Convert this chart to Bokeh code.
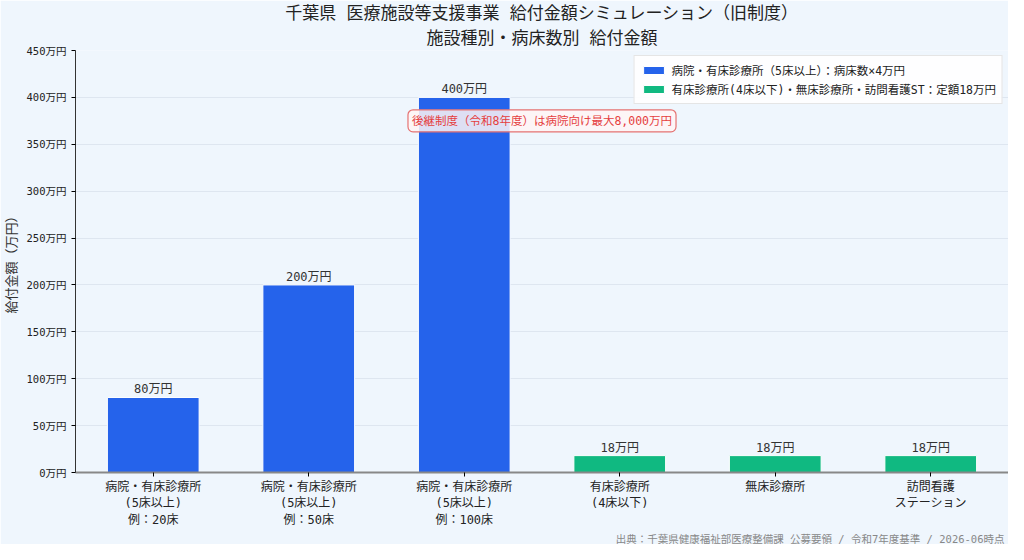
from bokeh.plotting import figure
from bokeh.models import ColumnDataSource, FixedTicker, Label, Title, Legend, LegendItem
from bokeh.embed import file_html
from bokeh.resources import INLINE

# データ（万円）
categories = [
    "病院・有床診療所\n(5床以上)\n例：20床",
    "病院・有床診療所\n(5床以上)\n例：50床",
    "病院・有床診療所\n(5床以上)\n例：100床",
    "有床診療所\n(4床以下)",
    "無床診療所",
    "訪問看護\nステーション",
]
amounts = [80, 200, 400, 18, 18, 18]
groups = ["bed", "bed", "bed", "flat", "flat", "flat"]
legend_labels = {
    "bed": "病院・有床診療所（5床以上）：病床数×4万円",
    "flat": "有床診療所(4床以下)・無床診療所・訪問看護ST：定額18万円",
}
group_colors = {"bed": "#2563EB", "flat": "#10B981"}
y_ticks = [0, 50, 100, 150, 200, 250, 300, 350, 400, 450]

FONT = "DejaVu Sans Mono, Noto Sans CJK JP"
BG = "#EFF6FD"

p = figure(x_range=categories, y_range=(0, 450), width=1008, height=544,
           output_backend="svg", toolbar_location=None,
           title="千葉県 医療施設等支援事業 給付金額シミュレーション（旧制度）",
           min_border_left=10, min_border_right=0, min_border_top=0,
           min_border_bottom=0)
p.title.align = "center"
p.title.text_font = FONT
p.title.text_font_size = "17px"
p.title.text_font_style = "normal"
p.title.text_color = "#222222"
p.title.standoff = 0
p.title.offset = 0
p.add_layout(Title(text="施設種別・病床数別 給付金額",
                   align="center", text_font=FONT, text_font_size="17px",
                   text_font_style="normal", text_color="#222222",
                   standoff=6), "above")

p.background_fill_color = BG
p.border_fill_color = BG
p.outline_line_color = None

items = []
for g in ["bed", "flat"]:
    xs = [c for c, gg in zip(categories, groups) if gg == g]
    ys = [a for a, gg in zip(amounts, groups) if gg == g]
    src = ColumnDataSource(dict(x=xs, top=ys, lab=[f"{v}万円" for v in ys]))
    r = p.vbar(x="x", top="top", width=0.59, source=src, fill_color=group_colors[g],
               line_color="white", line_width=1)
    items.append(LegendItem(label=legend_labels[g], renderers=[r]))
    p.text(x="x", y="top", text="lab", source=src, text_align="center",
           text_baseline="bottom", y_offset=-1, text_font_size="12px",
           text_color="#333333", text_font={"value": FONT})

legend = Legend(items=items, location="top_right")
legend.label_text_font = FONT
legend.label_text_font_size = "11.5px"
legend.label_text_color = "#222222"
legend.glyph_width = 26
legend.glyph_height = 10
legend.label_height = 14
legend.spacing = 3
legend.padding = 6
legend.margin = 5
legend.border_line_color = "#cccccc"
legend.background_fill_color = "white"
legend.background_fill_alpha = 0.9
p.add_layout(legend)

note = Label(x=3.0, y=375, text="後継制度（令和8年度）は病院向け最大8,000万円",
             text_align="center", text_baseline="middle", text_font=FONT,
             text_font_size="11.5px", text_color="#E53E3E",
             background_fill_color="#FFF5F5", background_fill_alpha=0.85,
             border_line_color="#E57373", border_line_width=1.2,
             border_radius=5, padding=4)
p.add_layout(note)

p.yaxis.ticker = FixedTicker(ticks=y_ticks)
p.yaxis.major_label_overrides = {t: f"{t}万円" for t in y_ticks}
p.yaxis.axis_label = "給付金額（万円）"
p.yaxis.axis_label_text_font = FONT
p.yaxis.axis_label_text_font_size = "13px"
p.yaxis.axis_label_text_font_style = "normal"
p.yaxis.axis_label_text_color = "#333333"
p.yaxis.major_label_text_font = FONT
p.yaxis.major_label_text_font_size = "10.5px"
p.yaxis.major_label_text_color = "#222222"
p.yaxis.axis_line_color = "#333333"
p.yaxis.minor_tick_line_color = None
p.yaxis.major_tick_out = 4
p.yaxis.major_tick_in = 0

p.xaxis.major_label_text_font = FONT
p.xaxis.major_label_text_font_size = "12px"
p.xaxis.major_label_text_color = "#222222"
p.xaxis.axis_line_color = "#888888"
p.xaxis.axis_line_width = 2
p.xaxis.major_tick_out = 4
p.xaxis.major_tick_in = 0
p.xaxis.major_label_standoff = 3

p.xgrid.grid_line_color = None
p.ygrid.grid_line_color = "#D9E2EC"
p.ygrid.grid_line_alpha = 0.8

p.add_layout(Title(text="出典：千葉県健康福祉部医療整備課 公募要領 / 令和7年度基準 / 2026-06時点",
                   align="right", text_font=FONT, text_font_size="10.5px",
                   text_font_style="normal", text_color="#888888",
                   standoff=0, offset=4), "below")

open("out.html", "w").write(file_html(p, INLINE))
